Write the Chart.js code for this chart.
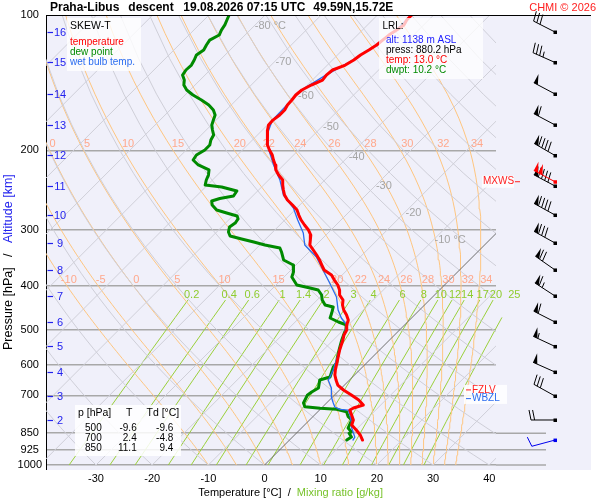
<!DOCTYPE html>
<html>
<head>
<meta charset="utf-8">
<title>Skew-T Praha-Libus</title>
<script src="https://cdn.jsdelivr.net/npm/chart.js@4.4.1/dist/chart.umd.min.js"></script>
<style>
  html, body { margin: 0; padding: 0; background: #fff; }
  #box { width: 600px; height: 500px; }
</style>
</head>
<body>
<div id="box"><canvas id="skewT" width="600" height="500"></canvas></div>
<script>
// descent profile: pressure [hPa], temperature [°C]
const tempP = [100.0, 102.6, 105.2, 108.0, 110.8, 113.7, 116.6, 119.6, 122.7, 125.9, 129.2, 132.5, 136.0,
  139.5, 143.1, 146.8, 150.6, 154.5, 158.5, 162.6, 166.8, 171.2, 175.6, 180.1,
  184.8, 189.6, 194.5, 199.5, 204.7, 210.0, 215.4, 221.0, 226.8, 232.6,
  238.7, 244.8, 251.2, 257.7, 264.4, 271.3, 278.3, 285.5, 292.9, 300.5,
  308.3, 316.2, 324.4, 332.8, 341.5, 350.3, 359.4, 368.7, 378.3,
  388.1, 398.1, 408.4, 419.0, 429.9, 441.0, 452.4, 464.2, 476.2,
  488.5, 501.2, 514.2, 527.5, 541.2, 555.2, 569.6, 584.4, 599.5,
  615.1, 631.0, 647.4, 664.2, 681.3, 699.0, 717.1, 735.7,
  747.0, 754.8, 774.3, 794.3, 815.0, 836.0, 857.7, 880.2];
const tempC = [-53.9, -53.9, -53.5, -53.9, -54.4, -54.6, -54.8, -55.3, -55.9, -56.2, -56.8, -58.2, -58.4,
  -58.2, -59.3, -60.1, -60.3, -60.1, -60.0, -59.6, -59.6, -59.9, -59.8, -59.1,
  -58.2, -57.4, -56.4, -55.2, -53.8, -52.7, -51.5, -50.5, -49.1, -47.5,
  -46.6, -45.6, -44.5, -43.1, -41.3, -39.6, -38.4, -37.1, -35.6, -34.0,
  -32.7, -31.9, -31.1, -29.6, -28.1, -26.7, -25.4, -24.1, -21.9,
  -20.5, -19.0, -17.8, -16.9, -15.4, -14.6, -13.5, -12.1, -10.9,
  -10.3, -9.4, -9.0, -8.3, -7.7, -7.1, -6.4, -5.7, -5.0,
  -4.3, -3.5, -2.4, -1.2, 0.7, 3.0, 5.2, 6.9,
  5.7, 5.4, 6.6, 7.8, 8.4, 10.1, 11.7, 13.0];

const dewP = [100.0, 102.6, 105.2, 108.0, 110.8, 113.7, 116.6, 119.6, 122.7, 125.9, 129.2, 132.5, 136.0,
  139.5, 143.1, 146.8, 150.6, 154.5, 158.5, 162.6, 166.8, 171.2, 175.6, 180.1,
  184.8, 189.6, 194.5, 199.5, 204.7, 210.0, 215.4, 221.0, 226.8, 232.6, 238.7,
  241.2, 246.1, 252.5, 255.7, 259.0, 264.4, 271.3, 275.4, 279.7, 284.0, 289.9, 295.9, 303.5, 309.8, 314.7, 319.6, 324.4, 329.4, 336.2,
  350.3, 359.4, 372.5, 382.2, 398.1, 404.4, 408.4, 419.0, 429.9, 441.0, 445.6, 459.4, 471.3, 481.1, 488.5, 500.0,
  508.9, 527.5, 555.2, 578.3, 593.4, 605.7, 621.5, 637.6, 647.4, 674.5, 688.4, 700.0,
  728.2, 742.0, 748.1, 752.0, 761.3, 781.0, 794.3, 827.7, 844.8, 850.0, 866.9, 880.2];
const dewC = [-86.4, -85.9, -85.4, -85.1, -84.6, -85.4, -85.1, -84.7, -85.1, -84.6, -84.2, -84.3, -84.0,
  -82.8, -82.0, -80.6, -78.6, -76.2, -74.0, -72.3, -71.1, -70.5, -69.9, -68.9,
  -67.8, -67.4, -66.7, -66.7, -67.3, -67.0, -65.2, -62.4, -61.6, -61.1, -60.4,
  -57.1, -53.7, -53.4, -55.4, -56.4, -55.6, -53.9, -51.6, -49.2, -48.5, -48.3, -48.6, -47.9, -46.9, -44.3, -41.6, -39.1, -35.9, -34.9,
  -33.1, -30.5, -29.2, -28.6, -26.3, -23.4, -21.6, -20.1, -19.1, -17.7, -15.9, -15.1, -14.5, -12.3, -10.3, -9.6,
  -9.3, -8.5, -7.2, -6.1, -5.3, -5.2, -4.6, -4.0, -5.3, -4.1, -4.6, -4.8,
  -4.1, -3.2, -0.2, 2.9, 5.1, 6.3, 7.5, 8.3, 9.6, 9.4, 10.5, 10.2];

const wetP = [100.0, 108.0, 116.6, 125.9, 136.0, 146.8, 158.5, 171.2, 184.8, 199.5,
  215.4, 232.6, 251.2, 268.5, 285.5, 305.1, 324.4, 345.0, 368.7, 394.1,
  423.3, 452.4, 471.3, 488.5, 506.3, 541.2, 584.4, 615.1, 640.9, 647.4,
  674.5, 706.2, 728.2, 743.3, 752.0, 754.8, 774.3, 802.5, 823.4, 844.8, 866.9, 880.2];
const wetC = [-54.0, -54.0, -54.9, -56.3, -58.5, -60.2, -60.1, -60.0, -58.3, -55.3,
  -51.8, -48.0, -44.7, -40.6, -37.7, -34.4, -32.0, -27.8, -24.3, -20.8,
  -17.1, -14.5, -12.5, -10.3, -9.4, -7.8, -5.9, -4.7, -3.9, -3.8,
  -1.8, -0.2, 1.2, 2.2, 3.5, 5.1, 6.3, 7.8, 8.7, 9.9, 11.1, 11.3];

// axes
const pressureTicks = [100, 200, 300, 400, 500, 600, 700, 850, 925, 1000];
const tempTicks = [-30, -20, -10, 0, 10, 20, 30, 40];

// altitude marks [km], their pressure, wind at each mark
const altKm = [16, 15, 14, 13, 12, 11, 10, 9, 8, 7, 6, 5, 4, 3, 2];
const altP = [109.1, 127.5, 149.8, 175.5, 205.2, 239.9, 278.3, 321.1, 368.6, 421.1, 481.1, 545.2, 621.5, 702.6, 794.3];
const windDir = [297, 294, 298, 298, 300, 298, 299, 299, 305, 303, 297, 295, 294, 299, 270];
const windKt = [30, 35, 50, 60, 90, 90, 90, 80, 70, 65, 60, 55, 50, 30, 20];

// lowest recorded level, max wind, freezing levels
const lrlAlt = 1138, lrlP = 880.2, lrlT = 13.0, lrlTd = 10.2, lrlDir = 255, lrlKt = 10;
const mxwsP = 234.7, mxwsDir = 298, mxwsKt = 100;
const fzlvP = 681, wbzlP = 712;

// summary table
const tableP = [500, 700, 850];
const tableT = [-9.6, 2.4, 11.1];
const tableTd = [-9.6, -4.8, 9.4];

// background isopleths
const moistThetaW = [-10, -5, 0, 5, 10, 15, 20, 22, 24, 26, 28, 30, 32, 34];
const mixRatios = [0.2, 0.4, 0.6, 1, 1.4, 2, 3, 4, 6, 8, 10, 12, 14, 17, 20, 25];
const isoLabelT = [-80, -70, -60, -50, -40, -30, -20, -10];
const isoLabelP = [106, 127, 151, 177, 207, 240, 275, 316];

const FONT = '"Liberation Sans", Arial, Helvetica, sans-serif';
const SKEW = 80.1;              // °C per decade of pressure -> 45° on this plot
const X_MIN = -38.9, X_MAX = 41.2;

const skewX = (t, p) => t + SKEW * Math.log10(1000 / p);
const pts = (ps, ts) => ps.map((p, i) => ({ x: skewX(ts[i], p), y: p }));

function esat(t) { return 6.112 * Math.exp(17.67 * t / (t + 243.5)); }
function moistLapse(t, p) {
  const T = t + 273.15, es = esat(t), r = 0.622 * es / (p - es);
  const Rd = 287.04, cp = 1005.7, L = 2.501e6;
  return ((Rd * T + L * r) / p) / (cp + (L * L * r * 0.622) / (Rd * T * T));
}
function moistAdiabat(tw) {
  const data = [], at = {};
  let t = tw, p = 1000;
  while (true) {
    if (p % 10 === 0) data.push({ x: skewX(t, p), y: p });
    if (p === 200 || p === 400) at[p] = t;
    if (p <= 100) break;
    const dp = -5;
    const k1 = moistLapse(t, p);
    const k2 = moistLapse(t + k1 * dp / 2, p + dp / 2);
    t += k2 * dp; p += dp;
  }
  return { data, at };
}
function dewFromMix(w, p) {
  const e = w * p / (622 + w), l = Math.log(e / 6.112);
  return 243.5 * l / (17.67 - l);
}

const bgLine = (data, color, width, extra) => Object.assign({
  data, borderColor: color, borderWidth: width, pointRadius: 0, showLine: true,
  fill: false, tension: 0, order: 5
}, extra || {});

const background = [];
for (let t = -120; t <= 40; t += 10) {
  background.push(bgLine([1000, 100].map(p => ({ x: skewX(t, p), y: p })), t === 0 ? '#6e6e6e' : '#cfcfd8', 1));
}
const dryP = [];
for (let p = 1000; p >= 100; p -= 25) dryP.push(p);
for (let th = -40; th <= 180; th += 10) {
  background.push(bgLine(dryP.map(p => ({ x: skewX((th + 273.15) * Math.pow(p / 1000, 0.2857) - 273.15, p), y: p })), '#cfcfd8', 1));
}
const moist = moistThetaW.map(moistAdiabat);
moist.forEach(m => background.push(bgLine(m.data, '#ffc680', 1)));
const mixP = [1000, 950, 900, 850, 800, 750, 700, 650, 600, 550, 500, 470, 430];
mixRatios.forEach(w => {
  background.push(bgLine(mixP.map(p => ({ x: skewX(dewFromMix(w, p), p), y: p })), '#9ad03a', 1,
    { clip: { left: 0, top: 0, right: 30, bottom: 0 } }));
});

const profiles = [
  { data: pts(tempP, tempC), borderColor: '#ff0000', borderWidth: 3, order: 0 },
  { data: pts(wetP, wetC), borderColor: '#2a6cf0', borderWidth: 1.3, order: 1 },
  { data: pts(dewP, dewC), borderColor: '#008a00', borderWidth: 3, order: 2 }
].map(d => Object.assign(d, { profile: true, pointRadius: 0, showLine: true, fill: false, tension: 0,
  borderJoinStyle: 'round', borderCapStyle: 'round' }));

function txt(ctx, s, x, y, color, size, align, weight) {
  ctx.font = (weight || '') + ' ' + size + 'px ' + FONT;
  ctx.fillStyle = color;
  ctx.textAlign = align || 'left';
  ctx.textBaseline = 'middle';
  ctx.fillText(s, x, y);
}

function drawBarb(ctx, x, y, dir, kt, color) {
  const a = dir * Math.PI / 180;
  const dx = Math.sin(a), dy = -Math.cos(a);
  const nx = -dy, ny = dx;
  const L = 24, B = 10, S = 3.6;
  const ex = x + dx * L, ey = y + dy * L;
  ctx.strokeStyle = color; ctx.fillStyle = color; ctx.lineWidth = 1;
  ctx.beginPath(); ctx.moveTo(x, y); ctx.lineTo(ex, ey); ctx.stroke();
  ctx.fillRect(x - 1.5, y - 1.5, 3.5, 3.5);
  let rest = Math.round(kt / 5) * 5, pos = 0;
  while (rest >= 50) {
    const bx = ex - dx * pos, by = ey - dy * pos;
    ctx.beginPath();
    ctx.moveTo(bx, by);
    ctx.lineTo(bx + nx * B, by + ny * B);
    ctx.lineTo(bx - dx * (S + 1), by - dy * (S + 1));
    ctx.closePath(); ctx.fill();
    pos += S + 1.5; rest -= 50;
  }
  while (rest >= 10) {
    const bx = ex - dx * pos, by = ey - dy * pos;
    ctx.beginPath(); ctx.moveTo(bx, by);
    ctx.lineTo(bx + nx * B + dx * 2, by + ny * B + dy * 2); ctx.stroke();
    pos += S; rest -= 10;
  }
  if (rest >= 5) {
    const bx = ex - dx * pos, by = ey - dy * pos;
    ctx.beginPath(); ctx.moveTo(bx, by);
    ctx.lineTo(bx + nx * B * 0.55 + dx, by + ny * B * 0.55 + dy); ctx.stroke();
  }
}

function drawIsoplethLabels(chart) {
  const { ctx, chartArea: a, scales: { x: xs, y: ys } } = chart;
  const px = (t, p) => xs.getPixelForValue(skewX(t, p));
  const py = p => ys.getPixelForValue(p);
  ctx.save();
  ctx.beginPath(); ctx.rect(a.left, a.top, a.width + 40, a.height); ctx.clip();
  isoLabelT.forEach((t, i) => {
    const s = (i === 0 || i === isoLabelT.length - 1) ? t + ' °C' : String(t);
    txt(ctx, s, px(t, isoLabelP[i]) + 1, py(isoLabelP[i]), '#a4a4a4', 11);
  });
  moist.forEach((m, i) => {
    const tw = moistThetaW[i];
    const shift = Math.max(1.5, 3 + 0.12 * tw);
    [200, 400].forEach(p => {
      const x = px(m.at[p], p) + shift;
      if (x > a.left + 4 && x < a.right - 4) txt(ctx, String(tw), x, py(p) - 6, '#ffa88c', 11, 'center');
    });
  });
  mixRatios.forEach(w => {
    txt(ctx, String(w), px(dewFromMix(w, 419), 419), py(419), '#8fcc2e', 11, 'center');
  });
  ctx.restore();
}

const decor = {
  id: 'decor',
  beforeDraw(chart) {
    const { ctx, chartArea: a } = chart;
    ctx.save();
    ctx.fillStyle = '#fff'; ctx.fillRect(0, 0, chart.width, chart.height);
    ctx.fillStyle = '#f0f0fa'; ctx.fillRect(a.left, a.top, a.right + 95 - a.left, a.bottom + 5 - a.top);
    ctx.restore();
    chart.$labelsDone = false;
  },
  beforeDatasetDraw(chart, args) {
    if (chart.$labelsDone || !chart.data.datasets[args.index].profile) return;
    chart.$labelsDone = true;
    drawIsoplethLabels(chart);
  },
  afterDraw(chart) {
    const { ctx, chartArea: a, scales: { y: ys } } = chart;
    const py = p => ys.getPixelForValue(p);
    ctx.save();

    // frame: top line, left line to the bottom, low-level lines under the winds
    ctx.strokeStyle = '#000'; ctx.lineWidth = 1;
    ctx.beginPath(); ctx.moveTo(a.left, a.top + 0.5); ctx.lineTo(a.right + 95, a.top + 0.5); ctx.stroke();
    ctx.beginPath(); ctx.moveTo(a.left + 0.5, a.bottom); ctx.lineTo(a.left + 0.5, a.bottom + 5); ctx.stroke();
    ctx.strokeStyle = '#a8a8a8'; ctx.lineWidth = 1.5;
    [850, 925, 1000].forEach(p => {
      ctx.beginPath(); ctx.moveTo(a.right, py(p)); ctx.lineTo(a.right + 50, py(p)); ctx.stroke();
    });

    // altitude marks
    ctx.strokeStyle = '#2222ee'; ctx.lineWidth = 1.2;
    altKm.forEach((km, i) => {
      const y = Math.round(py(altP[i])) + 0.5;
      ctx.beginPath(); ctx.moveTo(a.left + 1.5, y); ctx.lineTo(a.left + 7, y); ctx.stroke();
      txt(ctx, String(km), a.left + 14, y, '#2222ee', 11, 'center');
    });

    // wind barbs
    const bxp = a.right + 59;
    altKm.forEach((km, i) => drawBarb(ctx, bxp, py(altP[i]), windDir[i], windKt[i], '#000'));
    drawBarb(ctx, bxp, py(mxwsP), mxwsDir, mxwsKt, '#ff0000');
    drawBarb(ctx, bxp, py(lrlP), lrlDir, lrlKt, '#0000ee');

    // max wind label
    ctx.fillStyle = 'rgba(255,255,255,0.8)'; ctx.fillRect(a.right - 14, py(mxwsP) - 6, 32, 12);
    txt(ctx, 'MXWS', a.right - 13, py(mxwsP), '#ff2020', 10);
    ctx.strokeStyle = '#ff2020'; ctx.lineWidth = 1;
    ctx.beginPath(); ctx.moveTo(a.right + 19, py(mxwsP)); ctx.lineTo(a.right + 24, py(mxwsP)); ctx.stroke();

    // freezing levels
    ctx.fillStyle = 'rgba(255,255,255,0.85)'; ctx.fillRect(a.right - 32, py(fzlvP) - 5, 43, 19);
    ctx.strokeStyle = '#ff2020';
    ctx.beginPath(); ctx.moveTo(a.right - 30, py(fzlvP)); ctx.lineTo(a.right - 25, py(fzlvP)); ctx.stroke();
    txt(ctx, 'FZLV', a.right - 24, py(fzlvP), '#ff2020', 10);
    ctx.strokeStyle = '#2a6cf0';
    ctx.beginPath(); ctx.moveTo(a.right - 30, py(wbzlP)); ctx.lineTo(a.right - 25, py(wbzlP)); ctx.stroke();
    txt(ctx, 'WBZL', a.right - 24, py(wbzlP), '#2a6cf0', 10);

    // legend box
    ctx.fillStyle = 'rgba(255,255,255,0.8)'; ctx.fillRect(67, 18, 74, 53);
    txt(ctx, 'SKEW-T', 70, 26, '#000', 10.5);
    txt(ctx, 'temperature', 70, 42.3, '#ff0000', 10);
    txt(ctx, 'dew point', 70, 51.8, '#008a00', 10);
    txt(ctx, 'wet bulb temp.', 70, 62.3, '#2a6cf0', 10);

    // lowest recorded level box
    ctx.fillStyle = 'rgba(255,255,255,0.75)'; ctx.fillRect(379, 18, 104, 61);
    txt(ctx, 'LRL:', 382.5, 26.7, '#000', 10);
    txt(ctx, 'alt: ' + lrlAlt + ' m ASL', 386, 40, '#1a1aff', 10);
    txt(ctx, 'press: ' + lrlP.toFixed(1) + ' hPa', 386, 50, '#000', 10);
    txt(ctx, 'temp: ' + lrlT.toFixed(1) + ' °C', 386, 60, '#ff0000', 10);
    txt(ctx, 'dwpt: ' + lrlTd.toFixed(1) + ' °C', 386, 70, '#008a00', 10);

    // table
    ctx.fillStyle = 'rgba(255,255,255,0.85)'; ctx.fillRect(75, 405, 106, 51);
    txt(ctx, 'p [hPa]', 78, 413.3, '#000', 10.5);
    txt(ctx, 'T', 126, 413.3, '#000', 10.5);
    txt(ctx, 'Td [°C]', 146.5, 413.3, '#000', 10.5);
    tableP.forEach((p, i) => {
      const y = 428.5 + i * 10;
      txt(ctx, String(p), 101.7, y, '#000', 10, 'right');
      txt(ctx, tableT[i].toFixed(1), 136.7, y, '#000', 10, 'right');
      txt(ctx, tableTd[i].toFixed(1), 173.3, y, '#000', 10, 'right');
    });

    // title
    txt(ctx, 'Praha-Libus', 50, 7.5, '#000', 12, 'left', 'bold');
    txt(ctx, 'descent', 128.3, 7.5, '#000', 12, 'left', 'bold');
    txt(ctx, '19.08.2026 07:15 UTC', 183.3, 7.5, '#000', 12, 'left', 'bold');
    txt(ctx, '49.59N,15.72E', 313.3, 7.5, '#000', 12, 'left', 'bold');
    txt(ctx, 'CHMI © 2026', 596, 7.5, '#ff2020', 11, 'right');

    // axis titles
    txt(ctx, 'Temperature [°C]  /  ', 198.3, 493.3, '#000', 11);
    ctx.font = '11px ' + FONT;
    const w1 = ctx.measureText('Temperature [°C]  /  ').width;
    txt(ctx, 'Mixing ratio [g/kg]', 198.3 + w1, 493.3, '#77c22a', 11);
    ctx.translate(9, 350);
    ctx.rotate(-Math.PI / 2);
    txt(ctx, 'Pressure [hPa]   /   ', 0, 0, '#000', 12.5);
    ctx.font = '12.5px ' + FONT;
    const w2 = ctx.measureText('Pressure [hPa]   /   ').width;
    txt(ctx, 'Altitude [km]', w2, 0, '#2222ee', 12.5);
    ctx.restore();
  }
};

new Chart(document.getElementById('skewT'), {
  type: 'scatter',
  data: { datasets: profiles.concat(background) },
  options: {
    responsive: false,
    animation: false,
    devicePixelRatio: 1,
    events: [],
    layout: { padding: { top: 15, right: 104, left: 0, bottom: 0 } },
    plugins: { legend: { display: false }, tooltip: { enabled: false }, title: { display: false } },
    scales: {
      x: {
        type: 'linear', min: X_MIN, max: X_MAX,
        afterFit: s => { s.height = 35; },
        afterBuildTicks: s => { s.ticks = tempTicks.map(v => ({ value: v })); },
        grid: { display: false, drawTicks: false },
        border: { display: false },
        ticks: { color: '#000', font: { family: FONT, size: 11 }, padding: 7, maxRotation: 0, autoSkip: false,
          callback: v => String(v) }
      },
      y: {
        type: 'logarithmic', reverse: true, min: 100, max: 1000,
        afterFit: s => { s.width = 46; },
        afterBuildTicks: s => { s.ticks = pressureTicks.map(v => ({ value: v })); },
        grid: { color: c => (c.tick && c.tick.value === 100) ? 'rgba(0,0,0,0)' : '#a8a8a8', lineWidth: 1.5, drawTicks: false },
        border: { display: true, color: '#000', width: 1 },
        ticks: { color: '#000', font: { family: FONT, size: 11 }, padding: 4, crossAlign: 'center', autoSkip: false,
          callback: v => String(v) }
      }
    }
  },
  plugins: [decor]
});
</script>
</body>
</html>
